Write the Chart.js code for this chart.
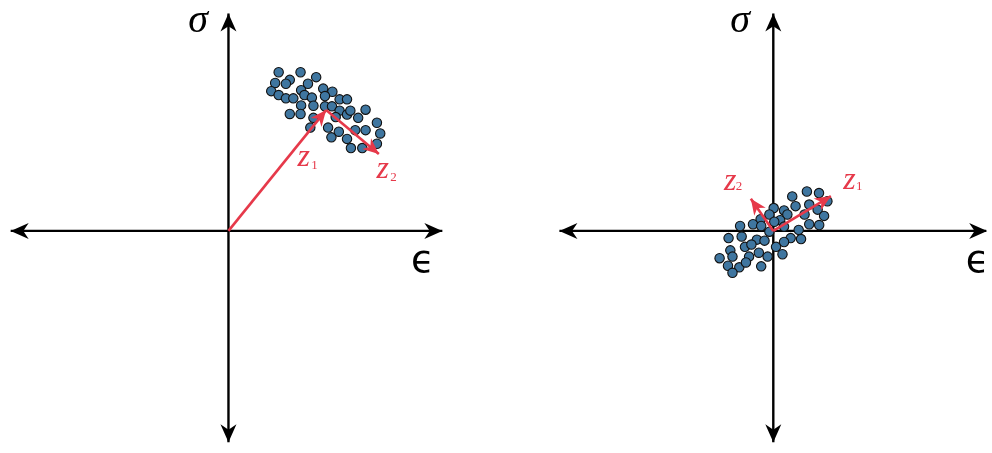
<!DOCTYPE html>
<html>
<head>
<meta charset="utf-8">
<script src="https://cdn.jsdelivr.net/npm/chart.js@4"></script>
<style>
  body { margin: 0; background: #fff; }
  #wrap { display: flex; width: 992px; height: 453px; }
  canvas { display: block; }
</style>
</head>
<body>
<div id="wrap">
  <canvas id="left" width="496" height="453"></canvas>
  <canvas id="right" width="496" height="453"></canvas>
</div>
<script>
// samples in (epsilon, sigma) units, before centering
const leftX = [2.57, 3.69, 3.14, 2.39, 2.94, 4.07, 4.49, 2.19, 2.57, 2.94, 3.32, 3.72, 3.89, 4.27, 4.85,
  5.32, 4.94, 5.69, 6.07, 3.72, 3.14, 3.69, 4.35, 4.94, 5.30, 5.69, 6.07, 6.24, 7.02, 6.64, 4.35, 5.49,
  4.19, 5.10, 5.65, 6.49, 7.02, 7.60, 7.77, 5.27, 6.07, 6.27, 6.85, 7.60];
const leftY = [8.14, 8.14, 7.75, 7.59, 7.55, 7.55, 7.89, 7.17, 6.97, 6.80, 6.80, 7.22, 6.97, 6.84, 7.30,
  7.14, 6.92, 6.75, 6.75, 6.44, 6.00, 6.00, 6.42, 6.39, 6.39, 6.17, 5.97, 6.17, 6.22, 5.80, 5.80, 5.84,
  5.30, 5.30, 5.09, 5.17, 5.17, 5.55, 5.00, 4.80, 4.72, 4.25, 4.25, 4.47];

// same samples after centering
const rightX = [1.72, 2.34, 0.97, 2.77, 1.14, 1.84, 2.27, 0.02, 0.55, 0.72, 1.60, 2.60, -0.20, -0.65, 0.35,
  0.05, -1.70, -1.04, -0.62, 0.55, 1.84, 2.35, -0.20, 1.30, -2.29, -1.62, -0.84, -0.45, 0.89, 1.42, 0.55,
  -1.45, -1.12, 0.14, -2.20, -0.74, -2.09, -1.24, -0.29, 0.47, -2.75, -2.32, -1.74, -1.40, -0.62, -2.09];
const rightY = [2.02, 1.94, 1.77, 1.52, 1.27, 1.35, 1.09, 1.17, 1.05, 0.84, 0.84, 0.77, 0.84, 0.60, 0.55,
  0.47, 0.25, 0.34, 0.25, 0.22, 0.34, 0.30, -0.04, 0.05, -0.37, -0.29, -0.45, -0.50, -0.37, -0.42, -0.57,
  -0.82, -0.70, -0.82, -1.00, -1.12, -1.32, -1.32, -1.32, -1.20, -1.40, -1.79, -1.87, -1.62, -1.82, -2.15];

// principal direction vectors
const leftZ1X = [0, 5.0], leftZ1Y = [0, 6.2];
const leftZ2X = [5.0, 7.7], leftZ2Y = [6.2, 3.95];
const rightZ1X = [0, 2.95], rightZ1Y = [0, 1.78];
const rightZ2X = [0, -1.15], rightZ2Y = [0, 1.65];

// axis extents
const leftAxisX = [-11.15, 10.95], rightAxisX = [-10.95, 10.95];
const axisY = [-10.85, 11.15];

const RED = "#e6394a";
const DOT = "#3f76a0";

function pts(xs, ys) {
  return xs.map((x, i) => ({ x: x, y: ys[i] }));
}

function arrowHead(ctx, x0, y0, x1, y1, len, half, color) {
  const a = Math.atan2(y1 - y0, x1 - x0);
  ctx.save();
  ctx.translate(x1, y1);
  ctx.rotate(a);
  ctx.beginPath();
  ctx.moveTo(0, 0);
  ctx.lineTo(-len, -half);
  ctx.lineTo(-len * 0.7, 0);
  ctx.lineTo(-len, half);
  ctx.closePath();
  ctx.fillStyle = color;
  ctx.fill();
  ctx.restore();
}

function makePanel(id, o) {
  const lineSet = (data, color, width, ends, order) => ({
    data: data,
    showLine: true,
    borderColor: color,
    borderWidth: width,
    pointRadius: 0,
    fill: false,
    tension: 0,
    order: order,
    ends: ends
  });

  const datasets = [
    lineSet(pts(o.vec1X, o.vec1Y), RED, 2.6, "end", 0),
    lineSet(pts(o.vec2X, o.vec2Y), RED, 2.6, "end", 0),
    {
      data: pts(o.xs, o.ys),
      pointRadius: 4.7,
      pointBackgroundColor: DOT,
      pointBorderColor: "#111",
      pointBorderWidth: 1.1,
      order: 1
    },
    lineSet(pts(o.axisX, [0, 0]), "#000", 2.4, "both", 2),
    lineSet(pts([0, 0], axisY), "#000", 2.4, "both", 2)
  ];

  // arrowheads and symbols
  const decor = {
    id: "decor",
    afterDatasetsDraw(chart) {
      const ctx = chart.ctx;
      chart.data.datasets.forEach((ds, i) => {
        if (!ds.ends) return;
        const p = chart.getDatasetMeta(i).data;
        const n = p.length;
        const isAxis = ds.borderColor === "#000";
        const len = isAxis ? 18 : 16;
        const half = isAxis ? 8 : 7;
        arrowHead(ctx, p[n - 2].x, p[n - 2].y, p[n - 1].x, p[n - 1].y, len, half, ds.borderColor);
        if (ds.ends === "both") {
          arrowHead(ctx, p[1].x, p[1].y, p[0].x, p[0].y, len, half, ds.borderColor);
        }
      });
    },
    afterDraw(chart) {
      const ctx = chart.ctx;
      const sx = chart.scales.x, sy = chart.scales.y;
      ctx.save();
      ctx.textAlign = "center";
      ctx.textBaseline = "middle";
      o.labels.forEach(t => {
        ctx.font = t.font;
        ctx.fillStyle = t.color;
        ctx.fillText(t.text, sx.getPixelForValue(t.x), sy.getPixelForValue(t.y));
      });
      ctx.restore();
    }
  };

  return new Chart(document.getElementById(id), {
    type: "scatter",
    data: { datasets: datasets },
    options: {
      responsive: false,
      animation: false,
      events: [],
      layout: { padding: 0 },
      plugins: { legend: { display: false }, tooltip: { enabled: false } },
      scales: {
        x: { type: "linear", display: false, min: o.xMin, max: o.xMax },
        y: { type: "linear", display: false, min: -11.1, max: 11.55 }
      }
    },
    plugins: [decor]
  });
}

const zFont = "italic 32px 'Liberation Serif'";
const subFont = "13px 'Liberation Serif'";
const symFont = "italic 40px 'Liberation Serif'";
const epsFont = "38px 'DejaVu Sans'";

makePanel("left", {
  xs: leftX, ys: leftY,
  vec1X: leftZ1X, vec1Y: leftZ1Y, vec2X: leftZ2X, vec2Y: leftZ2Y,
  axisX: leftAxisX, xMin: -11.4, xMax: 13.4,
  labels: [
    { text: "σ", x: -1.55, y: 10.75, font: symFont, color: "#000" },
    { text: "ϵ", x: 9.95, y: -1.6, font: epsFont, color: "#000" },
    { text: "z", x: 3.85, y: 3.75, font: zFont, color: RED },
    { text: "1", x: 4.4, y: 3.35, font: subFont, color: RED },
    { text: "z", x: 7.9, y: 3.15, font: zFont, color: RED },
    { text: "2", x: 8.45, y: 2.75, font: subFont, color: RED }
  ]
});

makePanel("right", {
  xs: rightX, ys: rightY,
  vec1X: rightZ1X, vec1Y: rightZ1Y, vec2X: rightZ2X, vec2Y: rightZ2Y,
  axisX: rightAxisX, xMin: -13.9, xMax: 10.9,
  labels: [
    { text: "σ", x: -1.7, y: 10.75, font: symFont, color: "#000" },
    { text: "ϵ", x: 10.45, y: -1.6, font: epsFont, color: "#000" },
    { text: "z", x: -2.2, y: 2.55, font: zFont, color: RED },
    { text: "2", x: -1.75, y: 2.25, font: subFont, color: RED },
    { text: "z", x: 3.9, y: 2.6, font: zFont, color: RED },
    { text: "1", x: 4.4, y: 2.25, font: subFont, color: RED }
  ]
});
</script>
</body>
</html>
